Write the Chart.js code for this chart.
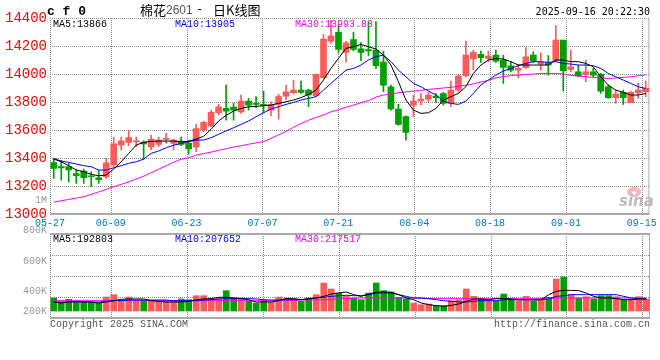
<!DOCTYPE html>
<html>
<head>
<meta charset="utf-8">
<script src="https://cdn.jsdelivr.net/npm/chart.js@4.4.1/dist/chart.umd.min.js"></script>
<style>
  body { margin: 0; background: #fff; }
  #wrap { position: relative; width: 660px; height: 360px; }
  #kline { position: absolute; left: 0; top: 0; }
  #vol { position: absolute; left: 0; top: 226px; }
</style>
</head>
<body>
<div id="wrap">
  <canvas id="kline" width="660" height="232"></canvas>
  <canvas id="vol" width="660" height="114"></canvas>
</div>
<script>
// 棉花2601 daily candles, 05-27 .. 09-16
const opens = [13368,13338,13338,13288,13307,13273,13259,13266,13350,13492,
  13511,13516,13514,13480,13497,13533,13504,13521,13504,13480,
  13600,13628,13723,13754,13764,13730,13807,13785,13781,13742,
  13783,13842,13866,13885,13885,13845,13973,14235,14298,14155,
  14245,14180,14175,14170,14085,13909,13750,13695,13778,13807,
  13821,13842,13861,13790,13885,13988,14107,14140,14112,14135,
  14100,14059,14028,14045,14135,14071,14083,14095,14242,14033,
  14016,13997,14016,13997,13909,13831,13869,13795,13866,13873];
const highs = [13395,13383,13362,13321,13321,13302,13311,13397,13550,13550,
  13597,13550,13523,13564,13550,13576,13535,13550,13528,13640,
  13664,13742,13783,13921,13790,13850,13826,13838,13878,13802,
  13854,13921,13957,13950,13892,14000,14283,14385,14350,14233,
  14300,14225,14370,14375,14164,13921,13783,13702,13850,13861,
  13873,13861,13869,13950,13992,14235,14171,14164,14164,14171,
  14135,14088,14069,14188,14159,14152,14131,14345,14242,14171,
  14064,14100,14040,14004,13921,13885,13885,13878,13933,13950];
const lows = [13255,13242,13230,13219,13219,13195,13219,13254,13338,13457,
  13488,13481,13392,13457,13481,13504,13457,13488,13426,13445,
  13588,13623,13707,13671,13671,13719,13742,13759,13726,13702,
  13678,13814,13857,13861,13766,13838,13969,14219,14150,14085,
  14165,14095,14130,14040,13873,13742,13635,13528,13695,13778,
  13802,13797,13778,13766,13869,13980,14028,14083,14088,14083,
  13933,14016,13973,14040,14083,14028,13992,14088,13878,14016,
  13980,13945,13980,13861,13826,13790,13783,13795,13826,13838];
const closes = [13325,13330,13314,13273,13259,13266,13245,13366,13502,13523,
  13545,13520,13500,13535,13528,13536,13528,13497,13464,13611,
  13654,13726,13766,13735,13742,13807,13778,13783,13776,13783,
  13838,13873,13885,13869,13850,13997,14250,14273,14175,14223,
  14175,14155,14165,14060,13920,13750,13640,13583,13807,13821,
  13850,13831,13790,13885,13985,14135,14154,14116,14128,14092,
  14047,14028,14040,14123,14092,14083,14064,14242,14023,14052,
  13988,14016,13992,13878,13831,13857,13831,13869,13885,13897];

const ma5 = [13392,13373,13345,13314,13302,13283,13273,13278,13321,13373,
  13433,13492,13512,13519,13521,13521,13521,13516,13519,13535,
  13555,13605,13664,13705,13735,13754,13766,13769,13773,13778,
  13790,13802,13814,13831,13854,13885,13957,14040,14111,14183,
  14195,14211,14195,14178,14135,14064,13945,13814,13742,13719,
  13723,13754,13814,13838,13861,13909,14004,14064,14100,14111,
  14107,14088,14064,14064,14064,14064,14064,14100,14100,14088,
  14088,14076,14052,13980,13921,13885,13869,13850,13850,13861];
const ma10 = [13397,13378,13369,13357,13345,13338,13314,13314,13330,13345,
  13362,13373,13392,13433,13450,13473,13492,13504,13516,13528,
  13528,13545,13569,13593,13616,13640,13664,13695,13723,13750,
  13766,13783,13797,13814,13826,13838,13885,13933,13980,14028,
  14040,14064,14100,14123,14135,14088,14028,13980,13933,13909,
  13878,13850,13807,13790,13783,13807,13861,13921,13957,13992,
  14021,14040,14059,14076,14088,14088,14083,14088,14076,14071,
  14064,14064,14059,14040,14004,13980,13957,13933,13909,13897];
const ma30 = [13085,13095,13104,13114,13123,13140,13158,13176,13195,13212,
  13230,13250,13270,13295,13320,13345,13370,13392,13402,13420,
  13432,13442,13455,13466,13478,13488,13498,13508,13518,13540,
  13565,13590,13620,13645,13670,13690,13708,13730,13745,13762,
  13778,13795,13810,13835,13850,13858,13866,13872,13878,13884,
  13890,13895,13900,13905,13912,13920,13930,13943,13955,13972,
  13982,13988,13992,13996,14000,14004,14004,14004,14000,13990,
  13985,13980,13976,13972,13968,13972,13976,13980,13987,13994];

// volume, thousand lots
const volK = [199,138,179,148,148,138,122,214,250,158,
  214,158,158,158,148,148,158,184,173,234,
  234,189,189,311,199,199,148,122,158,138,
  214,199,184,148,199,250,428,337,275,224,
  199,173,275,428,311,291,209,184,122,97,
  107,82,82,158,173,337,224,189,173,148,
  260,173,158,224,148,199,209,490,520,255,
  194,219,184,234,234,219,168,184,219,184];
const volMa5 = [138,122,138,148,138,138,122,138,158,179,
  184,184,184,158,148,138,138,138,148,173,
  184,189,209,209,199,189,173,138,138,138,
  158,189,189,173,189,199,224,260,275,291,
  250,224,260,286,291,286,250,199,173,122,
  97,82,72,87,107,148,184,184,173,189,
  189,184,173,173,168,173,250,301,316,316,
  311,275,224,199,199,189,173,173,184,184];
const volMa10 = [138,138,138,138,138,138,138,148,158,158,
  168,168,168,168,168,168,158,158,158,158,
  168,173,184,189,189,189,189,184,173,168,
  168,173,173,173,184,199,209,224,234,240,
  234,234,250,275,275,275,250,224,199,199,
  189,173,158,148,138,138,148,158,158,158,
  173,173,173,173,173,173,184,224,234,250,
  250,250,250,250,250,250,224,199,189,184];
const volMa30 = [163,163,163,163,163,163,163,163,163,163,
  158,158,158,158,158,158,158,158,158,158,
  158,158,158,158,158,158,158,158,158,158,
  163,163,163,168,168,168,173,178,184,189,
  194,199,199,199,199,199,199,199,199,194,
  189,189,189,189,189,189,189,189,189,189,
  189,189,189,189,189,189,194,199,199,199,
  199,199,199,199,199,199,199,199,199,199];

const tickIndex = [0, 8, 18, 28, 38, 48, 58, 68, 78];
const tickDates = ['05-27','06-09','06-23','07-07','07-21','08-04','08-18','09-01','09-15'];
const priceTicks = [13000, 13200, 13400, 13600, 13800, 14000, 14200, 14400];
const volLabels = ['800K', '600K', '400K', '200K'];
const mainLegend = ['MA5:13866', 'MA10:13905', 'MA30:13993.83'];
const volLegend = ['MA5:192803', 'MA10:207652', 'MA30:217517'];
const stamp = '2025-09-16 20:22:30';

const UP = '#FF5A5A', DOWN = '#00A000';
const GRID = '#8c8c8c';
const N = closes.length;
const idx = closes.map((c, i) => i);
const colors = closes.map((c, i) => c >= opens[i] ? UP : DOWN);
const mono = '"Liberation Mono", monospace';

function lineSet(data, color) {
  return { type: 'line', data: data, borderColor: color, borderWidth: 1,
    pointRadius: 0, tension: 0, fill: false, order: 0 };
}

function seg(ctx, x1, y1, x2, y2) {
  ctx.beginPath();
  ctx.moveTo(x1, y1);
  ctx.lineTo(x2, y2);
  ctx.stroke();
}

// dotted grid under the marks
function gridPlugin(id, hValues) {
  return {
    id: id,
    beforeDatasetsDraw(chart) {
      const { ctx, chartArea: a, scales } = chart;
      ctx.save();
      ctx.strokeStyle = GRID;
      ctx.lineWidth = 1;
      ctx.setLineDash([1, 1]);
      tickIndex.forEach(v => {
        if (v === 0) return;
        const x = Math.round(scales.xg.getPixelForValue(v)) + 0.5;
        seg(ctx, x, a.top, x, a.bottom);
      });
      hValues().forEach(v => {
        const y = Math.round(scales.y.getPixelForValue(v)) + 0.5;
        seg(ctx, a.left, y, a.right, y);
      });
      seg(ctx, a.left + 0.5, a.top, a.left + 0.5, a.bottom);
      ctx.setLineDash([]);
      ctx.strokeStyle = '#aaaaaa';
      seg(ctx, a.right - 0.5, a.top, a.right - 0.5, a.bottom);
      ctx.restore();
    }
  };
}

const VMIN = -107, VMAX = 1178;

const kText = {
  id: 'kText',
  afterDraw(chart) {
    const { ctx, chartArea: a } = chart;
    ctx.save();
    ctx.strokeStyle = GRID;
    ctx.lineWidth = 1;
    ctx.setLineDash([1, 1]);
    seg(ctx, a.left, a.top + 0.5, a.right, a.top + 0.5);
    ctx.setLineDash([]);
    ctx.strokeStyle = '#aaaaaa';
    ctx.lineWidth = 2;
    seg(ctx, a.left, a.bottom, a.right, a.bottom);

    ctx.textBaseline = 'middle';
    ctx.textAlign = 'left';
    ctx.fillStyle = '#000';
    ctx.font = 'bold 13px "Liberation Mono"';
    ctx.fillText('c f 0', 47, 12);
    ctx.font = '13px "Noto Sans CJK SC"';
    ctx.fillText('棉花', 140, 10);
    ctx.fillStyle = '#555';
    ctx.font = '12px "Liberation Sans"';
    ctx.fillText('2601', 166, 11);
    ctx.fillStyle = '#000';
    ctx.font = '12px ' + mono;
    ctx.fillText('-', 196, 10);
    ctx.font = '13px "Noto Sans CJK SC"';
    ctx.fillText('日K线图', 213, 10);
    ctx.font = '10px "DejaVu Sans Mono"';
    ctx.textAlign = 'right';
    ctx.fillText(stamp, 650, 12);

    ctx.textAlign = 'left';
    ctx.font = '10px ' + mono;
    ctx.fillStyle = '#000'; ctx.fillText(mainLegend[0], 53, 24);
    ctx.fillStyle = '#0000FF'; ctx.fillText(mainLegend[1], 175, 24);
    ctx.fillStyle = '#FF00FF'; ctx.fillText(mainLegend[2], 295, 24);

    ctx.textAlign = 'right';
    ctx.fillStyle = '#999';
    ctx.fillText('1M', 47, 200);

    // sina watermark
    ctx.fillStyle = 'rgba(240,120,120,0.55)';
    ctx.beginPath();
    ctx.ellipse(634, 192, 7, 5, 0, 0, Math.PI * 2);
    ctx.fill();
    ctx.fillStyle = '#fff';
    ctx.beginPath();
    ctx.arc(634, 193, 2, 0, Math.PI * 2);
    ctx.fill();
    ctx.fillStyle = '#bbbbbb';
    ctx.textAlign = 'left';
    ctx.font = 'italic bold 15px "DejaVu Sans"';
    ctx.fillText('sina', 619, 202);
    ctx.restore();
  }
};

const vText = {
  id: 'vText',
  afterDraw(chart) {
    const { ctx, chartArea: a } = chart;
    ctx.save();
    ctx.strokeStyle = '#aaaaaa';
    ctx.lineWidth = 2;
    seg(ctx, a.left, a.top, a.right, a.top);
    seg(ctx, a.left, a.bottom, a.right, a.bottom);

    ctx.textBaseline = 'middle';
    ctx.font = '10px ' + mono;
    ctx.textAlign = 'left';
    ctx.fillStyle = '#000'; ctx.fillText(volLegend[0], 53, 13);
    ctx.fillStyle = '#0000FF'; ctx.fillText(volLegend[1], 175, 13);
    ctx.fillStyle = '#FF00FF'; ctx.fillText(volLegend[2], 295, 13);

    ctx.textAlign = 'right';
    ctx.fillStyle = '#999';
    const ys = [4, 35, 65, 85];
    volLabels.forEach((t, i) => ctx.fillText(t, 47, ys[i]));

    ctx.fillStyle = '#555';
    ctx.textAlign = 'left';
    ctx.fillText('Copyright 2025 SINA.COM', 50, 98);
    ctx.textAlign = 'right';
    ctx.fillText('http://finance.sina.com.cn', 650, 98);
    ctx.restore();
  }
};

const gridAxis = {
  type: 'linear', min: 0, max: N - 1, position: 'bottom',
  afterBuildTicks: s => { s.ticks = tickIndex.map(v => ({ value: v })); },
  grid: { display: false, drawTicks: false },
  border: { display: false }
};

new Chart(document.getElementById('kline'), {
  data: {
    labels: idx,
    datasets: [
      lineSet(ma5, '#000000'),
      lineSet(ma10, '#0000FF'),
      lineSet(ma30, '#FF00FF'),
      { type: 'bar', data: opens.map((o, i) => [o, closes[i]]), backgroundColor: colors,
        barThickness: 6, minBarLength: 1, grouped: false, order: 1 },
      { type: 'bar', data: lows.map((l, i) => [l, highs[i]]), backgroundColor: colors,
        barThickness: 1, grouped: false, order: 2 }
    ]
  },
  options: {
    responsive: false,
    animation: false,
    events: [],
    layout: { autoPadding: false, padding: { top: 18, right: 10, left: 0, bottom: 0 } },
    plugins: { legend: { display: false }, tooltip: { enabled: false } },
    scales: {
      x: { type: 'category', display: false, offset: true, grid: { display: false } },
      xg: Object.assign({}, gridAxis, {
        ticks: { callback: v => tickDates[tickIndex.indexOf(v)], color: '#0078C8',
          font: { family: mono, size: 10 }, padding: 3, maxRotation: 0, autoSkip: false },
        afterFit: s => { s.height = 18; }
      }),
      y: {
        min: priceTicks[0], max: priceTicks[priceTicks.length - 1],
        afterBuildTicks: s => { s.ticks = priceTicks.map(v => ({ value: v })); },
        ticks: { callback: v => String(v), color: '#FF0000',
          font: { family: mono, size: 14 }, padding: 3 },
        grid: { display: false, drawTicks: false },
        border: { display: false },
        afterFit: s => { s.width = 50; }
      }
    }
  },
  plugins: [gridPlugin('kGrid', () => priceTicks.slice(1, -1)), kText]
});

new Chart(document.getElementById('vol'), {
  data: {
    labels: idx,
    datasets: [
      lineSet(volMa5, '#000000'),
      lineSet(volMa10, '#0000FF'),
      lineSet(volMa30, '#FF00FF'),
      { type: 'bar', data: volK, backgroundColor: colors, barThickness: 6, grouped: false, order: 1 }
    ]
  },
  options: {
    responsive: false,
    animation: false,
    events: [],
    layout: { autoPadding: false, padding: { top: 8, right: 10, left: 0, bottom: 22 } },
    plugins: { legend: { display: false }, tooltip: { enabled: false } },
    scales: {
      x: { type: 'category', display: false, offset: true, grid: { display: false } },
      xg: Object.assign({}, gridAxis, {
        ticks: { display: false },
        afterFit: s => { s.height = 0; }
      }),
      y: {
        min: VMIN, max: VMAX,
        ticks: { display: false },
        grid: { display: false, drawTicks: false },
        border: { display: false },
        afterFit: s => { s.width = 50; }
      }
    }
  },
  plugins: [gridPlugin('vGrid', () => [1, 2, 3].map(k => VMIN + k * (VMAX - VMIN) / 4)), vText]
});
</script>
</body>
</html>
